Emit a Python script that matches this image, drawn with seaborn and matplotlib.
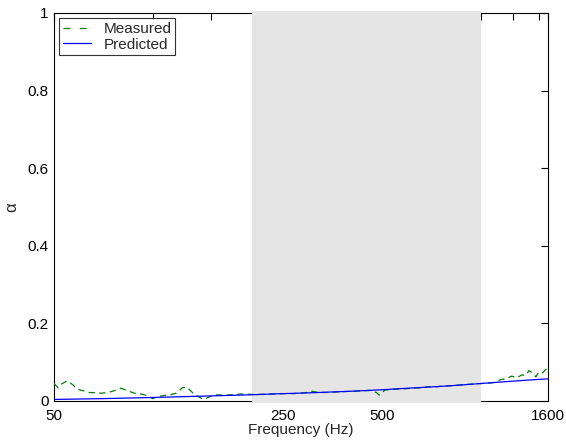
import numpy as np
import pandas as pd
import matplotlib
matplotlib.use("Agg")
import matplotlib.pyplot as plt
import seaborn as sns

# Measured absorption coefficient
meas_freq = [50, 51.5, 53, 55, 57, 59, 61, 64, 67, 70, 73, 76, 80, 84, 88, 92, 96,
             100, 104, 108, 113, 118, 123, 127, 132, 137, 143, 150, 157, 165, 175,
             185, 200, 215, 230, 250, 270, 290, 305, 320, 340, 360, 380, 400, 430,
             460, 480, 490, 500, 510, 540, 580, 620, 660, 690, 720, 760, 800, 860,
             920, 1000, 1060, 1100, 1150, 1200, 1240, 1290, 1330, 1370, 1400, 1440,
             1470, 1500, 1540, 1570, 1600]
meas_alpha = [0.045, 0.034, 0.045, 0.052, 0.042, 0.030, 0.027, 0.022, 0.021, 0.020,
              0.022, 0.026, 0.033, 0.026, 0.020, 0.018, 0.014, 0.006, 0.012, 0.014,
              0.016, 0.020, 0.034, 0.036, 0.022, 0.012, 0.004, 0.012, 0.016, 0.015,
              0.016, 0.018, 0.017, 0.017, 0.018, 0.019, 0.019, 0.021, 0.025, 0.022,
              0.022, 0.023, 0.024, 0.025, 0.026, 0.027, 0.022, 0.015, 0.022, 0.028,
              0.030, 0.031, 0.033, 0.034, 0.037, 0.036, 0.038, 0.039, 0.041, 0.043,
              0.045, 0.046, 0.048, 0.055, 0.058, 0.064, 0.060, 0.067, 0.066, 0.078,
              0.072, 0.062, 0.074, 0.072, 0.080, 0.085]

# Predicted absorption coefficient
pred_freq = [50, 70, 100, 150, 200, 250, 300, 400, 500, 600, 700, 800, 1000, 1200, 1400, 1600]
pred_alpha = [0.004, 0.006, 0.009, 0.013, 0.016, 0.019, 0.021, 0.025, 0.029, 0.033,
              0.036, 0.039, 0.045, 0.050, 0.054, 0.057]

band = (200, 1000)
xtick_pos = [50, 100, 150, 250, 500, 750, 1000, 1250, 1500, 1600]
xtick_lab = ["50", "", "", "250", "500", "", "", "", "", "1600"]
ytick_pos = [0, 0.2, 0.4, 0.6, 0.8, 1]
ytick_lab = ["0", "0.2", "0.4", "0.6", "0.8", "1"]

sns.set_style("white")
plt.rcParams["font.family"] = ["Liberation Sans", "DejaVu Sans"]
plt.rcParams["font.size"] = 11

fig = plt.figure(figsize=(5.66, 4.42), dpi=100)
ax = fig.add_axes([0.0954, 0.0928, 0.8726, 0.8780])

meas = pd.DataFrame({"f": meas_freq, "a": meas_alpha})
pred = pd.DataFrame({"f": pred_freq, "a": pred_alpha})

sns.lineplot(data=meas, x="f", y="a", ax=ax, color=(0, 0.5, 0), lw=0.9,
             label="Measured", zorder=3)
sns.lineplot(data=pred, x="f", y="a", ax=ax, color=(0, 0, 1), lw=0.9,
             label="Predicted", zorder=3.1)
ax.lines[0].set_dashes((5, 3.5))

ax.axvspan(band[0], band[1], ymin=-0.004, ymax=1.004, color="#e5e5e5", lw=0,
           zorder=2.6, clip_on=False)

ax.set_xscale("log")
ax.set_xlim(50, 1600)
ax.set_ylim(0, 1)
ax.minorticks_off()
ax.set_xticks(xtick_pos)
ax.set_xticklabels(xtick_lab)
ax.set_yticks(ytick_pos)
ax.set_yticklabels(ytick_lab)
ax.tick_params(direction="in", length=5, width=0.8, top=True, right=True,
               labelsize=11, colors="black")
ax.tick_params(axis="x", pad=6)
ax.tick_params(axis="y", pad=4)
for s in ax.spines.values():
    s.set_visible(True)
    s.set_color("black")
    s.set_linewidth(0.8)

ax.set_xlabel("Frequency (Hz)", fontsize=11, labelpad=0)
ax.set_ylabel("α", fontsize=12, labelpad=6)

leg = ax.legend(loc="upper left", frameon=True, fancybox=False, fontsize=11,
                borderpad=0.25, handlelength=1.8, handletextpad=0.85,
                labelspacing=0.1, borderaxespad=0.35)
leg.get_frame().set_edgecolor("black")
leg.get_frame().set_linewidth(0.8)
leg.get_lines()[0].set_dashes((5.5, 7.5))
leg.set_zorder(5)

fig.savefig("out.png", dpi=100)
